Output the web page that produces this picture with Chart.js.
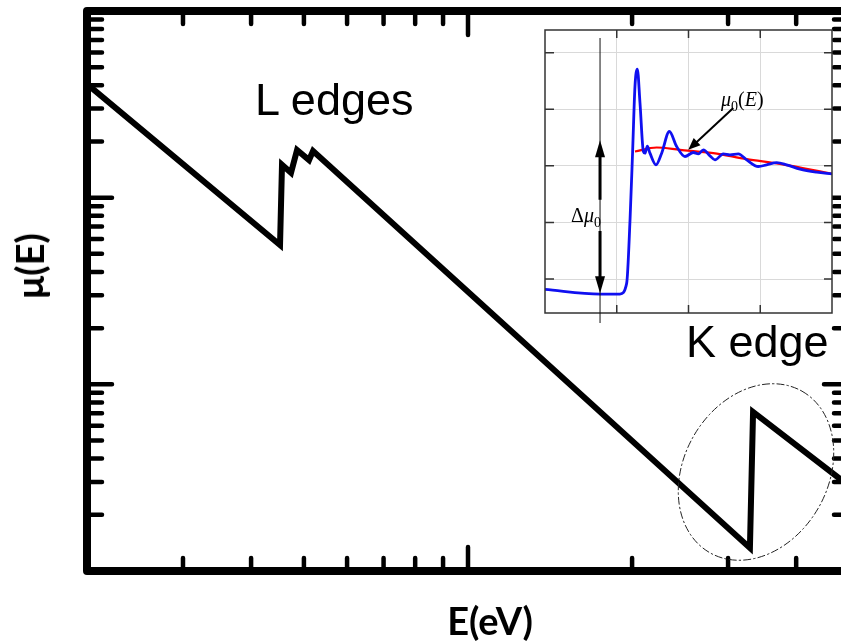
<!DOCTYPE html>
<html>
<head>
<meta charset="utf-8">
<script src="https://cdn.jsdelivr.net/npm/chart.js@4.4.1/dist/chart.umd.min.js"></script>
<style>
  html, body { margin: 0; padding: 0; background: #fff; overflow: hidden; }
  #wrap { position: relative; width: 841px; height: 643px; overflow: hidden; }
  #main { position: absolute; left: 0; top: 0; }
  #inset { position: absolute; left: 540px; top: 25px; }
  .lbl { position: absolute; white-space: nowrap; line-height: 1; color: #000; }
  .big { font-family: 'Liberation Sans', Arial, sans-serif; font-size: 45px; }
  .axis { font-family: Lato, 'DejaVu Sans', sans-serif; font-weight: bold; font-size: 38px; }
  .math { font-family: 'Liberation Serif', 'DejaVu Serif', serif; font-size: 20px; }
  .math .s { font-size: 14px; position: relative; top: 5px; }
</style>
</head>
<body>
<div id="wrap">
  <canvas id="main" width="870" height="643"></canvas>
  <canvas id="inset" width="301" height="305"></canvas>
  <div class="lbl big" style="left:255px; top:77px;">L edges</div>
  <div class="lbl big" style="left:686px; top:319px;">K edge</div>
  <div class="lbl axis" style="left:490px; top:601px; transform:translateX(-50%);">E(eV)</div>
  <div class="lbl axis" style="left:29px; top:266px; transform:translate(-50%,-50%) rotate(-90deg);">μ(E)</div>
  <div class="lbl math" style="left:571px; top:205px;">Δ<i>μ</i><span class="s">0</span></div>
  <div class="lbl math" style="left:721px; top:89px;"><i>μ</i><span class="s">0</span>(<i>E</i>)</div>
</div>
<script>
// main curve: mu(E), log-log
const energy = [2000, 4520, 4558, 4735, 4857, 5110, 5197, 32900, 33340, 50000];
const mu = [406, 55.8, 150, 136, 180, 159, 178, 1.33, 7.11, 2.86];

// tick positions (no labels in the figure)
const xMinorTicks = [3000, 4000, 5000, 6000, 7000, 8000, 9000, 20000, 30000, 40000];
const xMajorTicks = [10000];
const yMinorTicks = [2, 3, 4, 5, 6, 7, 8, 9, 20, 30, 40, 50, 60, 70, 80, 90, 200, 300, 400, 500, 600, 700, 800, 900];
const yMajorTicks = [10, 100];

// inset: K edge detail (arbitrary units)
const insetE = [0, 0.767, 1.045, 1.138, 1.185, 1.222, 1.254, 1.287, 1.324, 1.371, 1.394, 1.426, 1.463, 1.547, 1.626, 1.733, 1.835, 1.951, 2.067, 2.137, 2.207, 2.300, 2.369, 2.485, 2.578, 2.694, 2.811, 2.973, 3.089, 3.229, 3.368, 3.554, 3.786, 4.0];
const insetMu = [-0.183, -0.265, -0.265, -0.077, 1.044, 2.283, 3.404, 3.71, 3.11, 2.254, 2.224, 2.35, 2.224, 2.018, 2.224, 2.607, 2.342, 2.165, 2.236, 2.212, 2.283, 2.177, 2.106, 2.212, 2.195, 2.212, 2.106, 1.988, 2.018, 2.058, 2.018, 1.941, 1.888, 1.858];
const insetE0 = [1.254, 1.556, 1.882, 2.346, 2.811, 3.275, 4.0];
const insetMu0 = [2.254, 2.324, 2.283, 2.224, 2.118, 2.035, 1.858];
const insetXTicks = [1, 2, 3];
const insetYTicks = [0, 1, 2, 3, 4];

// annotation anchors in inset units
const deltaMuX = 0.767;
const deltaMuTop = 2.45, deltaMuBottom = -0.25;
const deltaMuGap = [0.85, 1.4];
const mu0Arrow = { from: [2.624, 3.02], to: [1.997, 2.283] };

function arrowHead(ctx, x1, y1, x2, y2, len, half) {
    const a = Math.atan2(y2 - y1, x2 - x1);
    ctx.beginPath();
    ctx.moveTo(x2, y2);
    ctx.lineTo(x2 - len * Math.cos(a) + half * Math.sin(a), y2 - len * Math.sin(a) - half * Math.cos(a));
    ctx.lineTo(x2 - len * Math.cos(a) - half * Math.sin(a), y2 - len * Math.sin(a) + half * Math.cos(a));
    ctx.closePath();
    ctx.fill();
}

// frame, inward ticks on all four sides, dash-dot ellipse round the K edge
const mainDecor = {
    id: 'mainDecor',
    afterDraw(chart) {
        const { ctx, chartArea: a, scales: { x, y } } = chart;
        ctx.save();
        ctx.strokeStyle = '#000';
        ctx.lineCap = 'round';
        ctx.lineWidth = 4.5;
        const xt = (v, len) => {
            const px = x.getPixelForValue(v);
            ctx.beginPath();
            ctx.moveTo(px, a.bottom); ctx.lineTo(px, a.bottom - len);
            ctx.moveTo(px, a.top); ctx.lineTo(px, a.top + len);
            ctx.stroke();
        };
        const yt = (v, len) => {
            const py = y.getPixelForValue(v);
            ctx.beginPath();
            ctx.moveTo(a.left, py); ctx.lineTo(a.left + len, py);
            ctx.moveTo(a.right, py); ctx.lineTo(a.right - len, py);
            ctx.stroke();
        };
        xMinorTicks.forEach(v => xt(v, 13));
        xMajorTicks.forEach(v => xt(v, 24));
        yMinorTicks.forEach(v => yt(v, 15));
        yMajorTicks.forEach(v => yt(v, 25));

        ctx.lineWidth = 8;
        ctx.lineJoin = 'round';
        ctx.strokeRect(a.left, a.top, a.right - a.left, a.bottom - a.top);

        ctx.lineWidth = 1;
        ctx.strokeStyle = '#222';
        ctx.setLineDash([7, 3, 1.5, 3]);
        ctx.beginPath();
        ctx.ellipse(756, 472, 93, 72, -1.05, 0, Math.PI * 2);
        ctx.stroke();
        ctx.restore();
    }
};

new Chart(document.getElementById('main'), {
    type: 'line',
    data: {
        datasets: [{
            data: energy.map((e, i) => ({ x: e, y: mu[i] })),
            borderColor: '#000',
            borderWidth: 6,
            borderJoinStyle: 'miter',
            pointRadius: 0,
            tension: 0
        }]
    },
    options: {
        responsive: false,
        animation: false,
        layout: { padding: { left: 87, top: 11, right: 21, bottom: 72 } },
        plugins: { legend: { display: false }, tooltip: { enabled: false } },
        scales: {
            x: { type: 'logarithmic', min: 2000, max: 50000, display: false },
            y: { type: 'logarithmic', min: 1, max: 1000, display: false }
        }
    },
    plugins: [mainDecor]
});

const insetDecor = {
    id: 'insetDecor',
    beforeDraw(chart) {
        const { ctx, chartArea: a } = chart;
        ctx.save();
        ctx.fillStyle = '#fff';
        ctx.fillRect(a.left, a.top, a.right - a.left, a.bottom - a.top);
        ctx.restore();
    },
    afterDraw(chart) {
        const { ctx, chartArea: a, scales: { x, y } } = chart;
        ctx.save();
        ctx.strokeStyle = '#333';
        ctx.lineWidth = 1.5;
        ctx.strokeRect(a.left, a.top, a.right - a.left, a.bottom - a.top);
        ctx.beginPath();
        insetXTicks.forEach(v => {
            const px = x.getPixelForValue(v);
            ctx.moveTo(px, a.bottom); ctx.lineTo(px, a.bottom - 8);
            ctx.moveTo(px, a.top); ctx.lineTo(px, a.top + 8);
        });
        insetYTicks.forEach(v => {
            const py = y.getPixelForValue(v);
            ctx.moveTo(a.left, py); ctx.lineTo(a.left + 9, py);
            ctx.moveTo(a.right, py); ctx.lineTo(a.right - 8, py);
        });
        ctx.stroke();

        // thin vertical marker through the edge region
        const dx = x.getPixelForValue(deltaMuX);
        ctx.strokeStyle = '#111';
        ctx.lineWidth = 1;
        ctx.beginPath();
        ctx.moveTo(dx, a.top + 8);
        ctx.lineTo(dx, a.bottom + 10);
        ctx.stroke();

        // delta mu double arrow
        ctx.fillStyle = '#000';
        ctx.strokeStyle = '#000';
        ctx.lineWidth = 3;
        const yTop = y.getPixelForValue(deltaMuTop);
        const yBot = y.getPixelForValue(deltaMuBottom);
        const g1 = y.getPixelForValue(deltaMuGap[1]);
        const g0 = y.getPixelForValue(deltaMuGap[0]);
        ctx.beginPath();
        ctx.moveTo(dx, g1); ctx.lineTo(dx, yTop + 12);
        ctx.moveTo(dx, g0); ctx.lineTo(dx, yBot - 12);
        ctx.stroke();
        arrowHead(ctx, dx, g1, dx, yTop, 17, 5);
        arrowHead(ctx, dx, g0, dx, yBot, 17, 5);

        // mu0(E) pointer
        const fx = x.getPixelForValue(mu0Arrow.from[0]), fy = y.getPixelForValue(mu0Arrow.from[1]);
        const tx = x.getPixelForValue(mu0Arrow.to[0]), ty = y.getPixelForValue(mu0Arrow.to[1]);
        const ang = Math.atan2(ty - fy, tx - fx);
        ctx.lineWidth = 2;
        ctx.beginPath();
        ctx.moveTo(fx, fy);
        ctx.lineTo(tx - 9 * Math.cos(ang), ty - 9 * Math.sin(ang));
        ctx.stroke();
        arrowHead(ctx, fx, fy, tx, ty, 12, 5);
        ctx.restore();
    }
};

new Chart(document.getElementById('inset'), {
    type: 'line',
    data: {
        datasets: [{
            data: insetE.map((e, i) => ({ x: e, y: insetMu[i] })),
            borderColor: '#1010f0',
            borderWidth: 2.8,
            pointRadius: 0,
            cubicInterpolationMode: 'monotone'
        }, {
            data: insetE0.map((e, i) => ({ x: e, y: insetMu0[i] })),
            borderColor: '#ff0000',
            borderWidth: 2.2,
            pointRadius: 0,
            cubicInterpolationMode: 'monotone'
        }]
    },
    options: {
        responsive: false,
        animation: false,
        layout: { padding: { left: 5, top: 5, right: 9, bottom: 17 } },
        plugins: { legend: { display: false }, tooltip: { enabled: false } },
        scales: {
            x: {
                type: 'linear', min: 0, max: 4,
                afterBuildTicks: s => { s.ticks = insetXTicks.map(v => ({ value: v })); },
                afterFit: s => { s.height = 0; },
                ticks: { display: false },
                grid: { color: '#d9d9d9', drawTicks: false },
                border: { display: false }
            },
            y: {
                type: 'linear', min: -0.6, max: 4.4,
                afterBuildTicks: s => { s.ticks = insetYTicks.map(v => ({ value: v })); },
                afterFit: s => { s.width = 0; },
                ticks: { display: false },
                grid: { color: '#d9d9d9', drawTicks: false },
                border: { display: false }
            }
        }
    },
    plugins: [insetDecor]
});
</script>
</body>
</html>
